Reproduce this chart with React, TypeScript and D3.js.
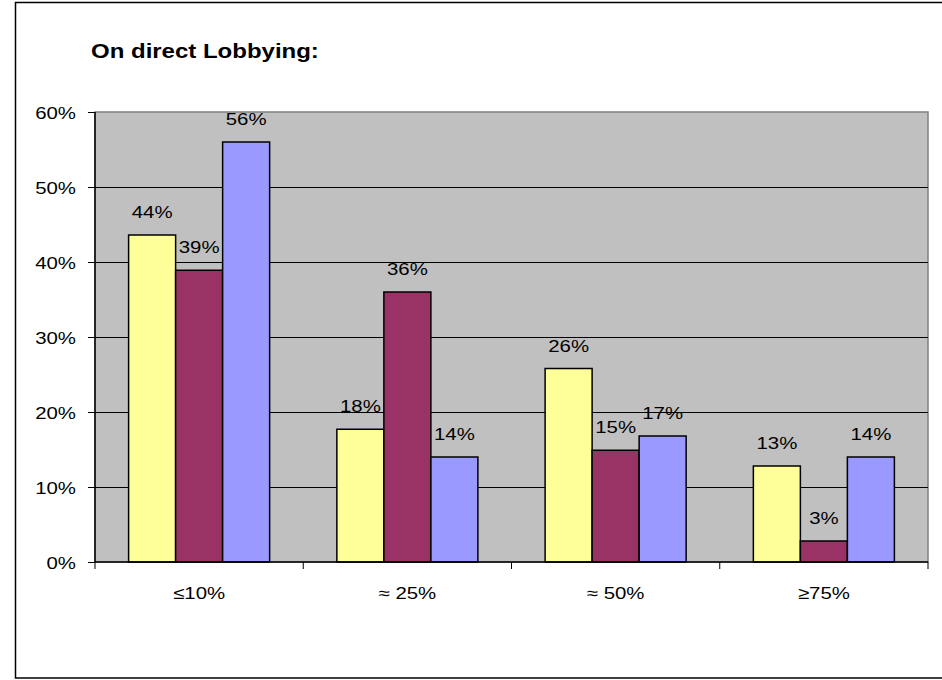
import React from "react";
import * as d3 from "d3";

const categories = ["≤10%", "≈ 25%", "≈ 50%", "≥75%"];
const seriesNames = ["A", "B", "C"];
const seriesColors = ["#FFFF99", "#993366", "#9999FF"];
const valuesA = [43.6, 17.7, 25.8, 12.8];
const valuesB = [38.9, 36.0, 14.9, 2.8];
const valuesC = [56.0, 14.0, 16.8, 14.0];
const labelsA = ["44%", "18%", "26%", "13%"];
const labelsB = ["39%", "36%", "15%", "3%"];
const labelsC = ["56%", "14%", "17%", "14%"];
const yTicks = [0, 10, 20, 30, 40, 50, 60];
const title = "On direct Lobbying:";

const W = 942;
const H = 680;
const plot = { left: 95, right: 928, top: 112, bottom: 562 };
const SX = 1.2;
const FONT = "Arial, 'Liberation Sans', sans-serif";

export default function App() {
  const series = [valuesA, valuesB, valuesC];
  const labels = [labelsA, labelsB, labelsC];
  const x = d3
    .scaleBand<string>()
    .domain(categories)
    .range([plot.left, plot.right])
    .paddingInner(0)
    .paddingOuter(0);
  const inner = d3
    .scaleBand<string>()
    .domain(seriesNames)
    .range([0, x.bandwidth()])
    .paddingOuter(0.715)
    .paddingInner(0);
  const y = d3.scaleLinear().domain([0, 60]).range([plot.bottom, plot.top]);

  const stretchedText = (
    key: string,
    tx: number,
    ty: number,
    text: string,
    anchor: "start" | "middle" | "end",
    size: number,
    weight: string = "normal"
  ) => (
    <g key={key} transform={`translate(${tx},${ty}) scale(${SX},1)`}>
      <text
        x={0}
        y={0}
        textAnchor={anchor}
        fontFamily={FONT}
        fontSize={size}
        fontWeight={weight}
        fill="#000"
      >
        {text}
      </text>
    </g>
  );

  const boundaries = [...categories.map((c) => x(c) as number), plot.right];

  return (
    <div style={{ position: "fixed", left: 0, top: 0 }}>
      <svg width={W} height={H} style={{ display: "block", background: "#fff" }}>
        <rect x={15.5} y={2.5} width={940} height={675.5} fill="#fff" stroke="#000" strokeWidth={1.5} />
        {stretchedText("title", 91, 58, title, "start", 20, "bold")}
        <rect
          x={plot.left}
          y={plot.top}
          width={plot.right - plot.left}
          height={plot.bottom - plot.top}
          fill="#C0C0C0"
          stroke="#808080"
          strokeWidth={1.5}
        />
        {yTicks
          .filter((t) => t > 0 && t < 60)
          .map((t) => (
            <line key={"g" + t} x1={plot.left} x2={plot.right} y1={y(t) + 0.5} y2={y(t) + 0.5} stroke="#000" strokeWidth={1} />
          ))}
        {series.map((vals, si) =>
          categories.map((c, ci) => {
            const bx = (x(c) as number) + (inner(seriesNames[si]) as number);
            const by = y(vals[ci]);
            return (
              <rect
                key={`b${si}-${ci}`}
                x={bx}
                y={by}
                width={inner.bandwidth()}
                height={plot.bottom - by}
                fill={seriesColors[si]}
                stroke="#000"
                strokeWidth={1.5}
              />
            );
          })
        )}
        {series.map((vals, si) =>
          categories.map((c, ci) => {
            const bx = (x(c) as number) + (inner(seriesNames[si]) as number) + inner.bandwidth() / 2;
            const by = y(vals[ci]);
            return stretchedText(`l${si}-${ci}`, bx, by - 17, labels[si][ci], "middle", 17);
          })
        )}
        <line x1={plot.left} x2={plot.left} y1={plot.top} y2={plot.bottom} stroke="#000" strokeWidth={1.5} />
        <line x1={plot.left} x2={plot.right} y1={plot.bottom} y2={plot.bottom} stroke="#000" strokeWidth={1.5} />
        {yTicks.map((t) => (
          <g key={"yt" + t}>
            <line x1={plot.left - 7} x2={plot.left} y1={y(t) + 0.5} y2={y(t) + 0.5} stroke="#000" strokeWidth={1} />
            {stretchedText("ytl" + t, 76, y(t) + 6.5, `${t}%`, "end", 17)}
          </g>
        ))}
        {boundaries.map((b, i) => (
          <line key={"xt" + i} x1={b} x2={b} y1={plot.bottom} y2={plot.bottom + 7} stroke="#000" strokeWidth={1} />
        ))}
        {categories.map((c) =>
          stretchedText("xl" + c, (x(c) as number) + x.bandwidth() / 2, 599, c, "middle", 17)
        )}
      </svg>
    </div>
  );
}
